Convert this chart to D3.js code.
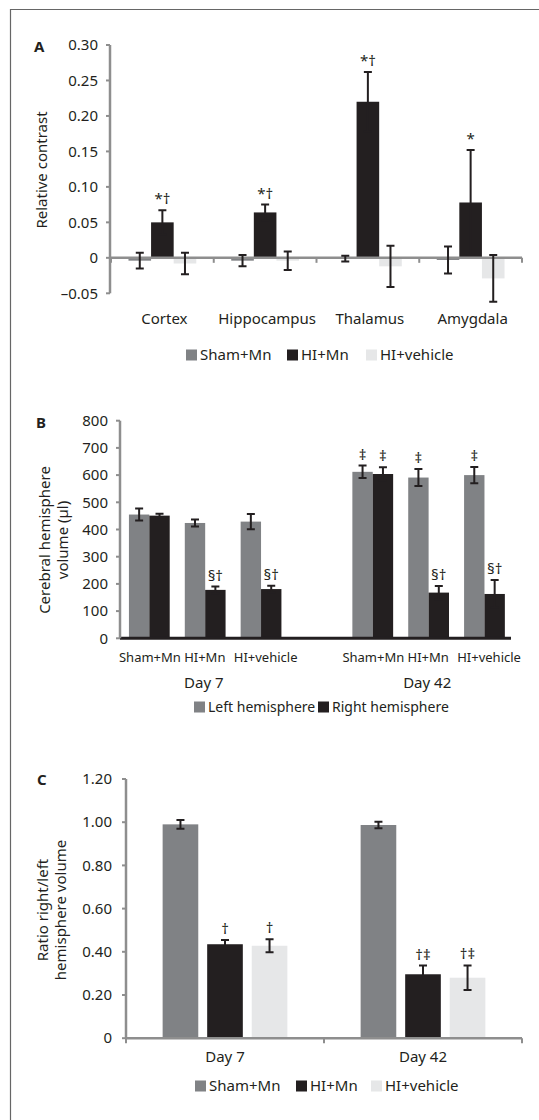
<!DOCTYPE html>
<html lang="en">
<head>
<meta charset="UTF-8">
<title>Relative contrast and hemisphere volume</title>
<script src="https://d3js.org/d3.v7.min.js"></script>
<style>
    body { margin: 0; background: #fff; }
    svg text { font-family: "Noto Sans", sans-serif; fill: #231f20; }
</style>
</head>
<body>
<svg id="fig" width="539" height="1120"></svg>
<script>
// ---- data ----
const regions = ["Cortex", "Hippocampus", "Thalamus", "Amygdala"];
const treatGroups = ["Sham+Mn", "HI+Mn", "HI+vehicle"];

// panel A: relative contrast
const shamMnContrast = [-0.004, -0.004, -0.001, -0.003];
const shamMnContrastErr = [0.011, 0.008, 0.004, 0.019];
const hiMnContrast = [0.050, 0.064, 0.220, 0.078];
const hiMnContrastErr = [0.017, 0.011, 0.042, 0.074];
const hiVehContrast = [-0.008, -0.004, -0.012, -0.029];
const hiVehContrastErr = [0.015, 0.013, 0.029, 0.033];
const hiMnContrastMarks = ["*†", "*†", "*†", "*"];
const contrastTicks = [0.30, 0.25, 0.20, 0.15, 0.10, 0.05, 0, -0.05];

// panel B: hemisphere volume (µl), order Sham+Mn, HI+Mn, HI+vehicle for Day 7 then Day 42
const days = ["Day 7", "Day 42"];
const leftHemi = [455, 424, 429, 612, 591, 600];
const leftHemiErr = [22, 13, 28, 23, 31, 30];
const rightHemi = [451, 178, 181, 604, 168, 163];
const rightHemiErr = [7, 12, 12, 25, 24, 51];
const leftMarks = ["", "", "", "‡", "‡", "‡"];
const rightMarks = ["", "§†", "§†", "‡", "§†", "§†"];
const volumeTicks = [0, 100, 200, 300, 400, 500, 600, 700, 800];

// panel C: ratio right/left, per day
const ratioShamMn = [0.99, 0.987];
const ratioShamMnErr = [0.02, 0.015];
const ratioHiMn = [0.435, 0.296];
const ratioHiMnErr = [0.02, 0.04];
const ratioHiVeh = [0.428, 0.28];
const ratioHiVehErr = [0.03, 0.057];
const ratioHiMnMarks = ["†", "†‡"];
const ratioHiVehMarks = ["†", "†‡"];
const ratioTicks = [0, 0.20, 0.40, 0.60, 0.80, 1.00, 1.20];

const colors = {"Sham+Mn": "#808285", "HI+Mn": "#231f20", "HI+vehicle": "#e6e7e8"};
const axisGray = "#8e8e8e";
const ink = "#231f20";

const svg = d3.select("#fig");

// frame
svg.append("path").attr("d", "M10.5,1120V9.5H539")
    .attr("fill", "none").attr("stroke", "#666").attr("stroke-width", 1.2);

function yAxis(g, y, x0, ticks, fmt, gap) {
    g.append("line").attr("x1", x0).attr("x2", x0)
        .attr("y1", y(d3.max(ticks))).attr("y2", y(d3.min(ticks)))
        .attr("stroke", axisGray).attr("stroke-width", 2.5);
    g.selectAll(null).data(ticks).join("line")
        .attr("x1", x0 - 4).attr("x2", x0).attr("y1", d => y(d)).attr("y2", d => y(d))
        .attr("stroke", axisGray).attr("stroke-width", 2);
    g.selectAll(null).data(ticks).join("text")
        .attr("x", x0 - gap).attr("y", d => y(d)).attr("dy", "0.35em")
        .attr("text-anchor", "end").attr("font-size", 15).text(fmt);
}

function errBar(g, cx, y, mean, err) {
    const top = y(mean + err), bot = y(mean - err);
    g.append("path")
        .attr("d", `M${cx - 4},${top}H${cx + 4}M${cx},${top}V${bot}M${cx - 4},${bot}H${cx + 4}`)
        .attr("stroke", ink).attr("stroke-width", 2).attr("fill", "none");
}

function mark(g, cx, yTop, txt) {
    if (!txt) return;
    g.append("text").attr("x", cx).attr("y", yTop - 6)
        .attr("text-anchor", "middle").attr("font-size", 15).text(txt);
}

function legend(g, items, x0s, y0, colorOf, size) {
    items.forEach((name, i) => {
        g.append("rect").attr("x", x0s[i]).attr("y", y0 - 5.5).attr("width", 11).attr("height", 11)
            .attr("fill", colorOf(name));
        g.append("text").attr("x", x0s[i] + 14).attr("y", y0).attr("dy", "0.35em")
            .attr("font-size", size || 15).text(name);
    });
}

function panelLetter(t, x, y) {
    svg.append("text").attr("x", x).attr("y", y).attr("dy", "0.35em")
        .attr("font-size", 15).attr("font-weight", "bold").text(t);
}

function yLabel(lines, x, y) {
    const t = svg.append("text").attr("transform", `translate(${x},${y}) rotate(-90)`)
        .attr("text-anchor", "middle").attr("font-size", 15);
    lines.forEach((l, i) => t.append("tspan").attr("x", 0).attr("dy", i ? "1.2em" : 0).text(l));
}

// ---------- Panel A ----------
{
    const g = svg.append("g");
    const y = d3.scaleLinear().domain([-0.05, 0.30]).range([293.3, 45]);
    const x = d3.scaleBand().domain(regions).range([111, 522]);
    const xs = d3.scaleBand().domain(treatGroups).range([x.bandwidth() * 0.17, x.bandwidth() * 0.83]);
    const means = [shamMnContrast, hiMnContrast, hiVehContrast];
    const errs = [shamMnContrastErr, hiMnContrastErr, hiVehContrastErr];

    treatGroups.forEach((grp, k) => {
        g.selectAll(null).data(regions).join("rect")
            .attr("x", d => x(d) + xs(grp)).attr("width", xs.bandwidth())
            .attr("y", (d, i) => y(Math.max(0, means[k][i])))
            .attr("height", (d, i) => Math.abs(y(means[k][i]) - y(0)))
            .attr("fill", colors[grp]);
    });
    // x axis at zero with boundary ticks
    g.append("line").attr("x1", 111).attr("x2", 522).attr("y1", y(0)).attr("y2", y(0))
        .attr("stroke", axisGray).attr("stroke-width", 2.5);
    const bounds = regions.map(d => x(d) + x.bandwidth()).concat([111]);
    g.selectAll(null).data(bounds).join("line")
        .attr("x1", d => d).attr("x2", d => d).attr("y1", y(0)).attr("y2", y(0) + 5)
        .attr("stroke", axisGray).attr("stroke-width", 2);
    treatGroups.forEach((grp, k) => {
        regions.forEach((r, i) => {
            const cx = x(r) + xs(grp) + xs.bandwidth() / 2;
            errBar(g, cx, y, means[k][i], errs[k][i]);
        });
    });
    regions.forEach((r, i) => {
        const cx = x(r) + xs("HI+Mn") + xs.bandwidth() / 2;
        mark(g, cx, y(hiMnContrast[i] + hiMnContrastErr[i]), hiMnContrastMarks[i]);
    });
    yAxis(g, y, 110, contrastTicks, d => d === 0 ? "0" : (d < 0 ? "–" : "") + Math.abs(d).toFixed(2), 12);
    g.selectAll(null).data(regions).join("text")
        .attr("x", d => x(d) + x.bandwidth() / 2 + 2).attr("y", 319).attr("dy", "0.35em")
        .attr("text-anchor", "middle").attr("font-size", 15).text(d => d);
    legend(g, treatGroups, [186, 287, 366], 355, n => colors[n]);
    panelLetter("A", 34, 47);
    yLabel(["Relative contrast"], 47, 170);
}

// ---------- Panel B ----------
{
    const g = svg.append("g");
    const y = d3.scaleLinear().domain([0, 800]).range([638.3, 420.7]);
    const slots = [];
    days.forEach((d, i) => {
        if (i > 0) slots.push("gap");
        treatGroups.forEach(t => slots.push(d + "|" + t));
    });
    const dataSlots = slots.filter(s => s !== "gap");
    const x = d3.scaleBand().domain(slots).range([120, 511]);
    const xs = d3.scaleBand().domain(["left", "right"]).range([x.bandwidth() * 0.16, x.bandwidth() * 0.89]);
    const series = [
        {key: "left", vals: leftHemi, errs: leftHemiErr, marks: leftMarks, color: colors["Sham+Mn"]},
        {key: "right", vals: rightHemi, errs: rightHemiErr, marks: rightMarks, color: colors["HI+Mn"]}
    ];
    series.forEach(s => {
        g.selectAll(null).data(dataSlots).join("rect")
            .attr("x", d => x(d) + xs(s.key)).attr("width", xs.bandwidth())
            .attr("y", (d, i) => y(s.vals[i])).attr("height", (d, i) => y(0) - y(s.vals[i]))
            .attr("fill", s.color);
    });
    series.forEach(s => {
        dataSlots.forEach((d, i) => {
            const cx = x(d) + xs(s.key) + xs.bandwidth() / 2;
            errBar(g, cx, y, s.vals[i], s.errs[i]);
            mark(g, cx, y(s.vals[i] + s.errs[i]), s.marks[i]);
        });
    });
    g.append("line").attr("x1", 120).attr("x2", 511).attr("y1", y(0)).attr("y2", y(0))
        .attr("stroke", ink).attr("stroke-width", 3);
    yAxis(g, y, 120, volumeTicks.slice().reverse(), d => d, 12);
    // category labels: the last of each day sits a little to the right, as in the original
    g.selectAll(null).data(dataSlots).join("text")
        .attr("x", (d, i) => x(d) + x.bandwidth() / 2 + (i % 3 === 2 ? 6 : i % 3 === 0 ? 2 : 1))
        .attr("y", 657).attr("dy", "0.35em")
        .attr("text-anchor", "middle").attr("font-size", 13).text(d => d.split("|")[1]);
    days.forEach(d => {
        const cx = x(d + "|HI+Mn") + x.bandwidth() / 2;
        g.append("text").attr("x", cx).attr("y", 683).attr("dy", "0.35em")
            .attr("text-anchor", "middle").attr("font-size", 15).text(d);
    });
    legend(g, ["Left hemisphere", "Right hemisphere"], [194, 318], 707,
        n => n.startsWith("Left") ? colors["Sham+Mn"] : colors["HI+Mn"], 14);
    panelLetter("B", 36, 423);
    yLabel(["Cerebral hemisphere", "volume (µl)"], 50, 540);
}

// ---------- Panel C ----------
{
    const g = svg.append("g");
    const y = d3.scaleLinear().domain([0, 1.2]).range([1038.2, 779]);
    const x = d3.scaleBand().domain(days).range([126, 522]);
    const xs = d3.scaleBand().domain(treatGroups)
        .range([x.bandwidth() * 0.185, x.bandwidth() * 0.815]).paddingInner(0.2);
    const series = [
        {grp: "Sham+Mn", vals: ratioShamMn, errs: ratioShamMnErr, marks: ["", ""]},
        {grp: "HI+Mn", vals: ratioHiMn, errs: ratioHiMnErr, marks: ratioHiMnMarks},
        {grp: "HI+vehicle", vals: ratioHiVeh, errs: ratioHiVehErr, marks: ratioHiVehMarks}
    ];
    series.forEach(s => {
        g.selectAll(null).data(days).join("rect")
            .attr("x", d => x(d) + xs(s.grp)).attr("width", xs.bandwidth())
            .attr("y", (d, i) => y(s.vals[i])).attr("height", (d, i) => y(0) - y(s.vals[i]))
            .attr("fill", colors[s.grp]);
        days.forEach((d, i) => {
            const cx = x(d) + xs(s.grp) + xs.bandwidth() / 2;
            errBar(g, cx, y, s.vals[i], s.errs[i]);
            mark(g, cx, y(s.vals[i] + s.errs[i]), s.marks[i]);
        });
    });
    g.append("line").attr("x1", 126).attr("x2", 522).attr("y1", y(0)).attr("y2", y(0))
        .attr("stroke", axisGray).attr("stroke-width", 2.5);
    g.selectAll(null).data([126, x("Day 42"), 522]).join("line")
        .attr("x1", d => d).attr("x2", d => d).attr("y1", y(0)).attr("y2", y(0) + 5)
        .attr("stroke", axisGray).attr("stroke-width", 2);
    yAxis(g, y, 126, ratioTicks.slice().reverse(), d => d === 0 ? "0" : d.toFixed(2), 14);
    g.selectAll(null).data(days).join("text")
        .attr("x", d => x(d) + x.bandwidth() / 2).attr("y", 1057).attr("dy", "0.35em")
        .attr("text-anchor", "middle").attr("font-size", 15).text(d => d);
    legend(g, treatGroups, [195, 296, 371], 1086, n => colors[n]);
    panelLetter("C", 37, 780);
    yLabel(["Ratio right/left", "hemisphere volume"], 48, 910);
}
</script>
</body>
</html>
